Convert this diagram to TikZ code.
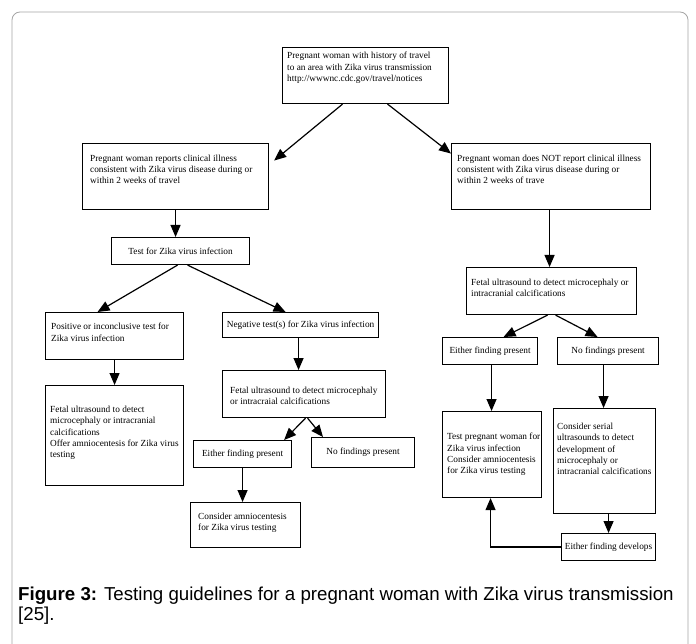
\documentclass[tikz,border=0pt]{standalone}
\usepackage{fontspec}
\setmainfont{Liberation Serif}
\newfontfamily\capfont{Liberation Sans}
\usetikzlibrary{arrows.meta,positioning,calc}

\begin{document}
\begin{tikzpicture}[x=1pt,y=-1pt,
  box/.style={draw, line width=1.1pt, anchor=north west, inner sep=0pt},
  cbox/.style={draw, line width=1.1pt, anchor=north west, inner sep=0pt, font=\fontsize{9.3}{11}\selectfont},
  boxtext/.style={anchor=north west, inner sep=0pt, align=left, font=\fontsize{9.3}{11.1}\selectfont},
  arr/.style={-{Triangle[length=12pt,width=10pt]}, line width=1.2pt},
  frame/.style={draw=black!35, line width=0.8pt, rounded corners=8pt}]
\clip (0,0) rectangle (696,644);
\fill[white] (0,0) rectangle (696,644);
% Outer frame
\draw[frame] (12,12) rectangle (688,690);
% Top
\node[box, minimum width=166pt, minimum height=56pt] (top) at (282,47) {};
\node[boxtext] (top-t) at ([shift={(5pt,-5.2pt)}]top.north west) {Pregnant woman with history of travel\\to an area with Zika virus transmission\\http://wwwnc.cdc.gov/travel/notices};
% Left branch
\node[box, minimum width=186pt, minimum height=66pt] (L1) at (82,143) {};
\node[boxtext] (L1-t) at ([shift={(8pt,-11.4pt)}]L1.north west) {Pregnant woman reports clinical illness\\consistent with Zika virus disease during or\\within 2 weeks of travel};
\node[cbox, minimum width=138pt, minimum height=27pt] (test) at (111,237) {Test for Zika virus infection};
\node[box, minimum width=138pt, minimum height=47pt] (pos) at (45,312) {};
\node[boxtext] (pos-t) at ([shift={(6pt,-11.2pt)}]pos.north west) {Positive or inconclusive test for\\Zika virus infection};
\node[box, minimum width=138pt, minimum height=100pt] (fetL) at (45,385) {};
\node[boxtext] (fetL-t) at ([shift={(5pt,-21.2pt)}]fetL.north west) {Fetal ultrasound to detect\\microcephaly or intracranial\\calcifications\\Offer amniocentesis for Zika virus\\testing};
\node[cbox, minimum width=156pt, minimum height=25pt] (neg) at (222,312) {Negative test(s) for Zika virus infection};
\node[box, minimum width=163pt, minimum height=47pt] (fet2) at (222,370) {};
\node[boxtext] (fet2-t) at ([shift={(8pt,-17.2pt)}]fet2.north west) {Fetal ultrasound to detect microcephaly\\or intracraial calcifications};
\node[cbox, minimum width=98pt, minimum height=27pt] (eith2) at (193,440) {Either finding present};
\node[cbox, minimum width=103pt, minimum height=30pt] (no2) at (311,437) {No findings present};
\node[box, minimum width=110pt, minimum height=45pt] (cons) at (190,502) {};
\node[boxtext] (cons-t) at ([shift={(8pt,-11.2pt)}]cons.north west) {Consider amniocentesis\\for Zika virus testing};
% Right branch
\node[box, minimum width=199pt, minimum height=66pt] (R1) at (451,143) {};
\node[boxtext] (R1-t) at ([shift={(6pt,-11.4pt)}]R1.north west) {Pregnant woman does NOT report clinical illness\\consistent with Zika virus disease during or\\within 2 weeks of trave};
\node[box, minimum width=170pt, minimum height=47pt] (fetR) at (466,267) {};
\node[boxtext] (fetR-t) at ([shift={(5pt,-12.2pt)}]fetR.north west) {Fetal ultrasound to detect microcephaly or\\intracranial calcifications};
\node[cbox, minimum width=95pt, minimum height=27pt] (eithR) at (442,337) {Either finding present};
\node[cbox, minimum width=101pt, minimum height=27pt] (noR) at (557,337) {No findings present};
\node[box, minimum width=99pt, minimum height=86pt] (testR) at (442,411) {};
\node[boxtext] (testR-t) at ([shift={(5pt,-22.2pt)}]testR.north west) {Test pregnant woman for\\Zika virus infection\\Consider amniocentesis\\for Zika virus testing};
\node[box, minimum width=102pt, minimum height=105pt] (serial) at (553,408) {};
\node[boxtext] (serial-t) at ([shift={(4pt,-15.2pt)}]serial.north west) {Consider serial\\ultrasounds to detect\\development of\\microcephaly or\\intracranial calcifications};
\node[cbox, minimum width=94pt, minimum height=27pt] (dev) at (561,533) {Either finding develops};
% Arrows
\draw[arr] ([xshift=-23pt]top.south) -- ([shift={(5pt,16pt)}]L1.east);
\draw[arr] ([xshift=22pt]top.south) -- ([yshift=23pt]R1.west);
\draw[arr] (L1.south) -- (L1.south |- test.north);
\draw[arr] ([xshift=-3pt]test.south) -- ([xshift=-17pt]pos.north);
\draw[arr] ([xshift=7pt]test.south) -- ([xshift=-15pt]neg.north);
\draw[arr] (pos.south) -- (pos.south |- fetL.north);
\draw[arr] ([xshift=-2pt]neg.south) -- ([xshift=-2pt]neg.south |- fet2.north);
\draw[arr] ([xshift=1.5pt]fet2.south) -- ([xshift=-8pt]eith2.north east);
\draw[arr] ([xshift=3.5pt]fet2.south) -- ([xshift=12pt]no2.north west);
\draw[arr] (eith2.south) -- (eith2.south |- cons.north);
\draw[arr] ([xshift=-1.5pt]R1.south) -- ([xshift=-1.5pt]R1.south |- fetR.north);
\draw[arr] ([xshift=-4pt]fetR.south) -- ([xshift=13.5pt]eithR.north);
\draw[arr] ([xshift=4pt]fetR.south) -- ([xshift=-10.5pt]noR.north);
\draw[arr] ([xshift=1.5pt]eithR.south) -- ([xshift=1.5pt]eithR.south |- testR.north);
\draw[arr] ([xshift=-4.5pt]noR.south) -- ([xshift=-4.5pt]noR.south |- serial.north);
\draw[arr] (dev.north |- serial.south) -- (dev.north);
\draw[arr] (dev.west) -| ([xshift=-1.5pt]testR.south);
% Caption
\node[anchor=north west, inner sep=0pt, align=left, font=\capfont\fontsize{18.7}{20}\selectfont] (cap) at (18,587)
  {\textbf{Figure 3:} Testing guidelines for a pregnant woman with Zika virus transmission\\{}[25].};
\end{tikzpicture}
\end{document}
